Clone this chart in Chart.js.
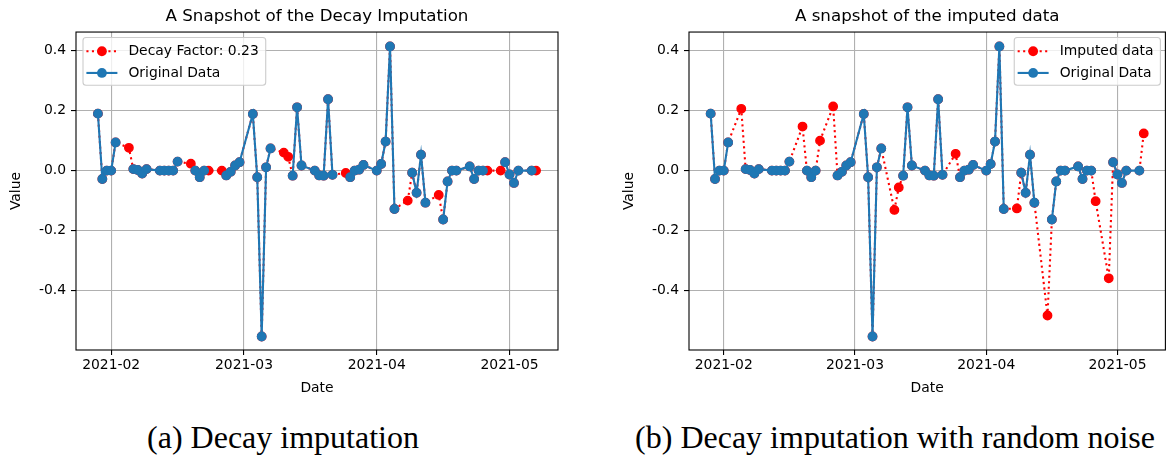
<!DOCTYPE html>
<html>
<head>
<meta charset="utf-8">
<title>Decay imputation</title>
<script src="https://cdn.jsdelivr.net/npm/chart.js@4"></script>
<style>
  html, body { margin: 0; padding: 0; background: #fff; }
  body { width: 1171px; height: 457px; position: relative; overflow: hidden; }
  canvas { position: absolute; top: 0; }
  #chart-a { left: 0; }
  #chart-b { left: 613px; }
  .caption {
    position: absolute; top: 419px; line-height: 36px;
    font-family: 'Liberation Serif', serif; font-size: 32px; color: #000;
    transform: translateX(-50%); white-space: nowrap;
  }
</style>
</head>
<body>
<canvas id="chart-a" width="600" height="400"></canvas>
<canvas id="chart-b" width="558" height="400"></canvas>
<div class="caption" style="left:283px">(a) Decay imputation</div>
<div class="caption" style="left:895px">(b) Decay imputation with random noise</div>
<script>
// day index on the x axis (0 = 2021-02 tick)
var days = [-3, -2, -1, 0, 1, 4, 5, 6, 7, 8, 11, 12, 13, 14, 15, 18, 19, 20, 21, 22,
            25, 26, 27, 28, 29, 32, 33, 34, 35, 36, 39, 40, 41, 42, 43, 46, 47, 48, 49, 50,
            53, 54, 55, 56, 57, 60, 61, 62, 63, 64, 67, 68, 69, 70, 71, 74, 75, 76, 77, 78,
            81, 82, 83, 84, 85, 88, 89, 90, 91, 92, 95, 96];
var originalData = [0.19, -0.028, 0, 0, 0.094,
                    null, 0.005, 0.002, -0.01, 0.005,
                    0, 0, 0, 0, 0.03,
                    null, 0, -0.022, 0, null,
                    null, -0.016, -0.004, 0.017, 0.028,
                    0.189, -0.022, -0.553, 0.011, 0.074,
                    null, null, -0.017, 0.211, 0.017,
                    0, -0.016, -0.017, 0.238, -0.014,
                    null, -0.022, 0, 0.003, 0.019,
                    0, 0.022, 0.097, 0.414, -0.128,
                    null, -0.007, -0.074, 0.053, -0.107,
                    null, -0.163, -0.036, 0, 0,
                    0.014, -0.028, 0, 0, null,
                    null, 0.028, -0.013, -0.041, 0,
                    0, null];
var imputedDays = [4, 18, 22, 25, 39, 40, 53, 67, 74, 85, 88, 96];
var decayImputed = [0.076, 0.023, 0, 0, 0.06, 0.046, -0.008, -0.1, -0.081, 0, 0, 0];
var noiseImputed = [0.206, 0.147, 0.1, 0.214, -0.131, -0.056, 0.056, -0.126, -0.483, -0.102, -0.359, 0.124];

var xTickDays = [0, 30, 60, 90];
var xTickLabels = ['2021-02', '2021-03', '2021-04', '2021-05'];
var yTicks = [-0.4, -0.2, 0.0, 0.2, 0.4];

Chart.defaults.font.family = '"DejaVu Sans", sans-serif';
Chart.defaults.color = '#000';

function fullSeries(vals) {
    return days.map(function(d, i) {
        var k = imputedDays.indexOf(d);
        return { x: d, y: k >= 0 ? vals[k] : originalData[i] };
    });
}

function origSeries() {
    return days.map(function(d, i) { return { x: d, y: originalData[i] }; });
}

// frame round the plot area, like matplotlib axes
var frame = {
    id: 'frame',
    afterDraw: function(chart) {
        var ctx = chart.ctx, ca = chart.chartArea;
        ctx.save();
        ctx.strokeStyle = '#000';
        ctx.lineWidth = 1.1;
        ctx.strokeRect(ca.left, ca.top, ca.right - ca.left, ca.bottom - ca.top);
        ctx.restore();
    }
};

// legend box with line + marker handles
var legendBox = {
    id: 'legendBox',
    afterDatasetsDraw: function(chart, args, opts) {
        var ctx = chart.ctx, ca = chart.chartArea;
        var items = chart.data.datasets;
        ctx.save();
        ctx.font = '13.9px "DejaVu Sans"';
        var tw = 0;
        items.forEach(function(ds) { tw = Math.max(tw, ctx.measureText(ds.label).width); });
        var w = 3.4 + 31 + 11 + tw + 7, h = 47.7;
        var x0 = opts.side === 'left' ? ca.left + 7 : ca.right - 5 - w;
        var y0 = ca.top + 5.5;
        ctx.beginPath();
        ctx.roundRect(x0, y0, w, h, 3);
        ctx.fillStyle = 'rgba(255,255,255,0.8)';
        ctx.fill();
        ctx.strokeStyle = '#cccccc';
        ctx.lineWidth = 1.1;
        ctx.stroke();
        items.forEach(function(ds, i) {
            var cy = y0 + 13.7 + i * 21.7;
            var hx = x0 + 3.4;
            ctx.setLineDash(ds.borderDash || []);
            ctx.strokeStyle = ds.borderColor;
            ctx.lineWidth = ds.borderWidth;
            ctx.beginPath();
            ctx.moveTo(hx, cy);
            ctx.lineTo(hx + 31, cy);
            ctx.stroke();
            ctx.setLineDash([]);
            ctx.beginPath();
            ctx.arc(hx + 15.5, cy, 4.9, 0, Math.PI * 2);
            ctx.fillStyle = ds.pointBackgroundColor;
            ctx.fill();
            ctx.fillStyle = '#000';
            ctx.textBaseline = 'middle';
            ctx.fillText(ds.label, hx + 31 + 11, cy + 0.5);
        });
        ctx.restore();
    }
};

function makeChart(id, title, redLabel, redVals, side, padRight) {
    var ctx = document.getElementById(id).getContext('2d');
    return new Chart(ctx, {
        type: 'line',
        data: {
            datasets: [{
                label: redLabel,
                data: fullSeries(redVals),
                borderColor: '#ff0000',
                backgroundColor: '#ff0000',
                pointBackgroundColor: '#ff0000',
                pointBorderColor: '#ff0000',
                borderWidth: 2.1,
                borderDash: [2.1, 3.4],
                pointRadius: 4.2,
                pointBorderWidth: 1.4,
                tension: 0,
                order: 1
            }, {
                label: 'Original Data',
                data: origSeries(),
                borderColor: '#1f77b4',
                backgroundColor: '#1f77b4',
                pointBackgroundColor: '#1f77b4',
                pointBorderColor: '#1f77b4',
                borderWidth: 2.1,
                pointRadius: 4.2,
                pointBorderWidth: 1.4,
                spanGaps: false,
                tension: 0,
                order: 0
            }]
        },
        options: {
            responsive: false,
            animation: false,
            devicePixelRatio: 1,
            layout: { padding: { left: 0, top: 0, right: padRight, bottom: 0 } },
            plugins: {
                legend: { display: false },
                tooltip: { enabled: false },
                title: {
                    display: true,
                    fullSize: false,
                    text: title,
                    color: '#000',
                    font: { size: 16.7, weight: 'normal' },
                    padding: { top: 7, bottom: 5 }
                },
                legendBox: { side: side }
            },
            scales: {
                x: {
                    type: 'linear',
                    min: -7.95,
                    max: 100.95,
                    afterBuildTicks: function(scale) {
                        scale.ticks = xTickDays.map(function(v) { return { value: v }; });
                    },
                    afterFit: function(scale) { scale.height = 50; },
                    ticks: {
                        autoSkip: false,
                        maxRotation: 0,
                        padding: 2,
                        font: { size: 13.9 },
                        callback: function(v, i) { return xTickLabels[i]; }
                    },
                    grid: { color: '#b0b0b0', lineWidth: 1.1, tickColor: '#000', tickLength: 5 },
                    border: { display: false },
                    title: {
                        display: true,
                        text: 'Date',
                        font: { size: 13.9 },
                        padding: { top: 2.8, bottom: 2.8 }
                    }
                },
                y: {
                    min: -0.598,
                    max: 0.462,
                    afterBuildTicks: function(scale) {
                        scale.ticks = yTicks.map(function(v) { return { value: v }; });
                    },
                    afterFit: function(scale) { scale.width = 76; },
                    ticks: {
                        padding: 4.9,
                        font: { size: 13.9 },
                        callback: function(v) { return v.toFixed(1); }
                    },
                    grid: { color: '#b0b0b0', lineWidth: 1.1, tickColor: '#000', tickLength: 5 },
                    border: { display: false },
                    title: {
                        display: true,
                        text: 'Value',
                        font: { size: 13.9 },
                        padding: { top: 7.6, bottom: 7.6 }
                    }
                }
            }
        },
        plugins: [legendBox, frame]
    });
}

makeChart('chart-a', 'A Snapshot of the Decay Imputation', 'Decay Factor: 0.23', decayImputed, 'left', 42);
makeChart('chart-b', 'A snapshot of the imputed data', 'Imputed data', noiseImputed, 'right', 2);
</script>
</body>
</html>
